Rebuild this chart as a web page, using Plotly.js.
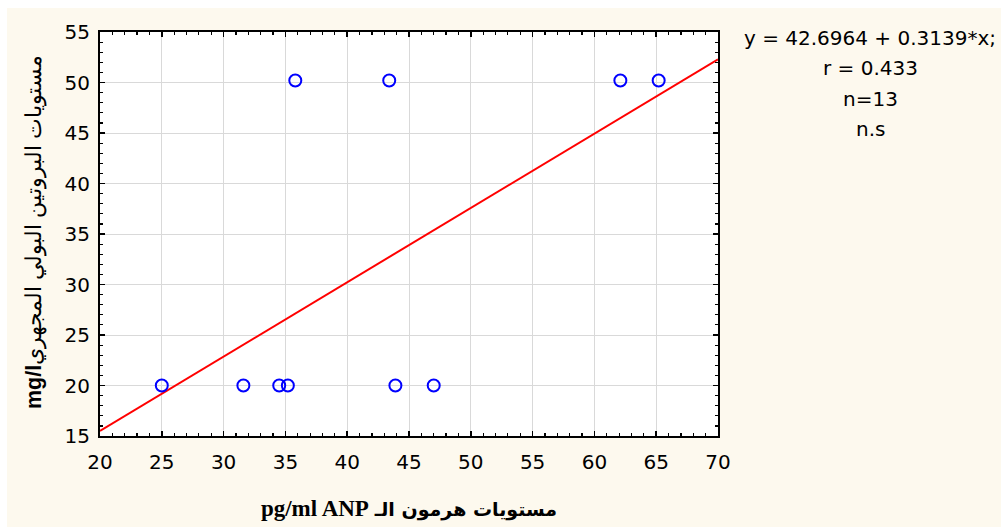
<!DOCTYPE html>
<html>
<head>
<meta charset="utf-8">
<script src="https://cdn.plot.ly/plotly-3.0.1.min.js"></script>
<style>
html,body{margin:0;padding:0;background:#ffffff;}
#chart{position:absolute;left:7px;top:8px;width:994px;height:519px;}
</style>
</head>
<body>
<div id="chart"></div>
<script>
// Data
const anp = [25.0, 31.6, 34.5, 35.2, 43.9, 47.0, 35.8, 43.4, 62.1, 65.2];
const protein = [20.0, 20.0, 20.0, 20.0, 20.0, 20.0, 50.2, 50.2, 50.2, 50.2];
const fitX = [20, 70];
const fitY = [15.5, 52.3];
const statsLines = ["y = 42.6964 + 0.3139*x;", "r = 0.433", "n=13", "n.s"];
const xTitle = "<b>pg/ml ANP</b> <span style=\"font-family:'DejaVu Sans';font-size:19px\"><b>مستويات هرمون الـ</b></span>";
const yTitle = "<b>mg/l</b>مستويات البروتين البولي المجهري";

const traces = [
  {x: fitX, y: fitY, mode: 'lines', type: 'scatter',
   line: {color: '#ff0000', width: 2}, hoverinfo: 'skip', showlegend: false},
  {x: anp, y: protein, mode: 'markers', type: 'scatter',
   marker: {symbol: 'circle-open', size: 12, color: '#0000ff', line: {width: 2, color: '#0000ff'}},
   showlegend: false}
];

const tickFont = {family: 'DejaVu Sans, Liberation Sans, Arial, sans-serif', size: 20, color: '#000000'};

const axisCommon = {
  showline: true, linecolor: '#000000', linewidth: 2, mirror: 'allticks',
  ticks: 'inside', ticklen: 5, tickwidth: 1.5, tickcolor: '#000000',
  showgrid: true, gridcolor: '#d9d9d9', gridwidth: 1, zeroline: false,
  tickfont: tickFont,
  minor: {dtick: 1, ticks: 'inside', ticklen: 3, tickwidth: 1.2, tickcolor: '#000000', showgrid: false}
};

const yTitleAnn = {
  text: yTitle, xref: 'paper', yref: 'paper', x: -0.105, y: 0.505,
  xanchor: 'center', yanchor: 'middle', textangle: -90, showarrow: false,
  font: {family: 'Liberation Sans, Arial, sans-serif', size: 21.5, color: '#000000'}
};

const layout = {
  width: 994, height: 519,
  paper_bgcolor: '#fdf9ee', plot_bgcolor: '#ffffff',
  margin: {l: 93, r: 283, t: 24, b: 91},
  xaxis: Object.assign({}, axisCommon, {
    range: [20, 70], dtick: 5, tick0: 20, ticklabelstandoff: 7,
    title: {text: xTitle, standoff: 27,
      font: {family: 'Liberation Serif, Times New Roman, serif', size: 23, color: '#000000'}}
  }),
  yaxis: Object.assign({}, axisCommon, {
    range: [15, 55], dtick: 5, tick0: 15, ticklabelstandoff: 4
  }),
  annotations: statsLines.map((t, i) => ({
    text: t, xref: 'paper', yref: 'paper', x: 1.246, xanchor: 'center',
    y: 1 - (6 + 30.3 * i) / 404, yanchor: 'middle',
    showarrow: false,
    font: tickFont
  })).concat([yTitleAnn]),
  showlegend: false
};

Plotly.newPlot('chart', traces, layout, {displayModeBar: false, staticPlot: true});
</script>
</body>
</html>
